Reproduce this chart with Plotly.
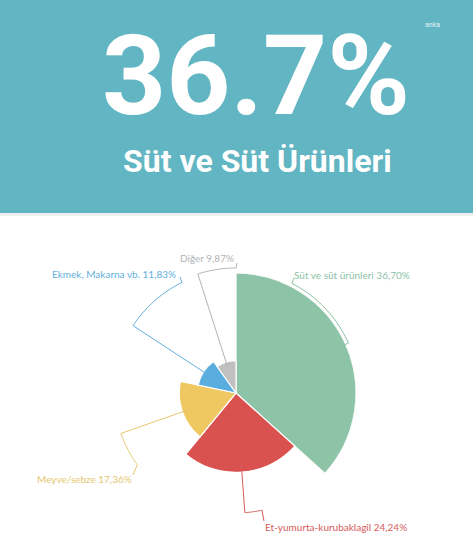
import numpy as np
import plotly.graph_objects as go

# ---- data ----
categories = ["Süt ve süt ürünleri", "Et-yumurta-kurubaklagil", "Meyve/sebze",
              "Ekmek, Makarna vb.", "Diğer"]
values = [36.70, 24.24, 17.36, 11.83, 9.87]
value_labels = ["36,70%", "24,24%", "17,36%", "11,83%", "9,87%"]
headline = "36.7%"
subtitle = "Süt ve Süt Ürünleri"
brand = "anka"

# ---- style ----
slice_colors = ["#8dc3a7", "#d9524f", "#efc862", "#5aaedf", "#c0c0c0"]
label_colors = ["#8cc3a6", "#d65a5a", "#e6c770", "#62b0dc", "#b3b3b3"]
banner_color = "#62b5c2"
W, H = 473, 545
CX, CY, R = 236, 393, 120

total = sum(values)
widths = [v / total * 360 for v in values]
starts = np.cumsum([0] + widths[:-1])
mids = starts + np.array(widths) / 2
vmax = max(values)

fig = go.Figure(go.Barpolar(
    r=values, theta=mids, width=widths,
    marker=dict(color=slice_colors, line=dict(color="white", width=1.2)),
    hoverinfo="skip", showlegend=False,
))

def px(a, r):
    a = np.radians(a)
    return CX + r * np.sin(a), CY - r * np.cos(a)

def to_paper(x, y):
    return x / W, 1 - y / H

# leader-line layout: (line radius, arc end angle, hook point, label x, label y, anchor)
leaders = [
    (123, 27, (294, 278), 292, 275, "left"),
    (120, 167.5, (264, 521), 263, 527, "left"),
    (122, 234, (133, 475), 134, 479, "right"),
    (123, 334, (180, 277), 178, 274, "right"),
    (125, 360, (237, 263), 236, 258, "right"),
]

shapes = [
    dict(type="rect", xref="paper", yref="paper", x0=0, x1=1, y0=1 - 213 / H, y1=1,
         fillcolor=banner_color, line=dict(width=0), layer="below"),
    dict(type="rect", xref="paper", yref="paper", x0=0, x1=1, y0=1 - 216 / H, y1=1 - 213 / H,
         fillcolor="#eef0f0", line=dict(width=0), layer="below"),
]
label_font = "Lato"
annotations = []
for i, (rl, a_end, hook, lx, ly, anchor) in enumerate(leaders):
    r_slice = values[i] / vmax * R
    pts = [px(mids[i], r_slice * 0.85), px(mids[i], rl)]
    for a in np.linspace(mids[i], a_end, 24):
        pts.append(px(a, rl))
    pts.append(hook)
    path = "M " + " L ".join(
        "{:.4f},{:.4f}".format(*to_paper(x, y)) for x, y in pts)
    shapes.append(dict(type="path", xref="paper", yref="paper", path=path,
                       line=dict(color=label_colors[i], width=1)))
    annotations.append(dict(
        text=f"{categories[i]} {value_labels[i]}", x=lx / W, y=1 - ly / H,
        xref="paper", yref="paper", xanchor=anchor, yanchor="middle", showarrow=False,
        font=dict(family=label_font, size=10, color=label_colors[i])))

annotations += [
    dict(text=headline, x=256 / W, y=1 - 75 / H, xref="paper", yref="paper",
         xanchor="center", yanchor="middle", showarrow=False,
         font=dict(family="Roboto", size=112, color="white", weight=700)),
    dict(text=subtitle, x=257 / W, y=1 - 161 / H, xref="paper", yref="paper",
         xanchor="center", yanchor="middle", showarrow=False,
         font=dict(family="Roboto", size=32, color="white", weight=700)),
    dict(text=brand, x=432 / W, y=1 - 25 / H, xref="paper", yref="paper",
         xanchor="center", yanchor="middle", showarrow=False,
         font=dict(family="Roboto", size=7, color="#e3f2f4")),
]

fig.update_layout(
    width=W, height=H, margin=dict(l=0, r=0, t=0, b=0),
    paper_bgcolor="white", plot_bgcolor="white",
    shapes=shapes, annotations=annotations,
    polar=dict(
        domain=dict(x=[(CX - R) / W, (CX + R) / W], y=[1 - (CY + R) / H, 1 - (CY - R) / H]),
        bgcolor="rgba(0,0,0,0)", hole=0,
        radialaxis=dict(range=[0, vmax], visible=False),
        angularaxis=dict(visible=False, rotation=90, direction="clockwise"),
    ),
)

fig.write_html("out.html", config={"displayModeBar": False},
               post_script="document.body.style.margin='0';")
